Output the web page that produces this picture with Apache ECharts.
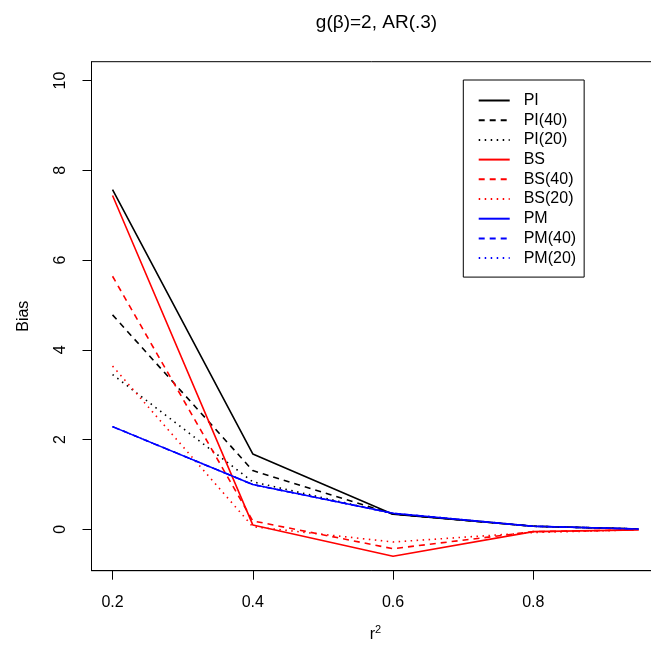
<!DOCTYPE html>
<html>
<head>
<meta charset="utf-8">
<script src="https://cdn.jsdelivr.net/npm/echarts@6/dist/echarts.min.js"></script>
<style>html,body{margin:0;padding:0;background:#fff;}#c{width:651px;height:652px;}</style>
</head>
<body>
<div id="c"></div>
<script>
const xVals = [0.2, 0.4, 0.6, 0.8, 0.95];
const xTicks = [0.2, 0.4, 0.6, 0.8];
const yTicks = [0, 2, 4, 6, 8, 10];
const PI   = [7.57, 1.68, 0.34, 0.07, 0.01];
const PI40 = [4.78, 1.31, 0.34, 0.07, 0.01];
const PI20 = [3.45, 1.06, 0.35, 0.07, 0.01];
const BS   = [7.44, 0.10, -0.60, -0.05, -0.01];
const BS40 = [5.64, 0.19, -0.43, -0.05, -0.01];
const BS20 = [3.64, 0.06, -0.28, -0.07, -0.01];
const PM   = [2.29, 1.00, 0.36, 0.07, 0.01];
const PM40 = [2.29, 1.00, 0.36, 0.07, 0.01];
const PM20 = [2.29, 1.00, 0.36, 0.07, 0.01];
const seriesNames = ['PI','PI(40)','PI(20)','BS','BS(40)','BS(20)','PM','PM(40)','PM(20)'];
const seriesData = [PI, PI40, PI20, BS, BS40, BS20, PM, PM40, PM20];
const colors = ['#000000','#000000','#000000','#ff0000','#ff0000','#ff0000','#0000ff','#0000ff','#0000ff'];
const dashes = ['solid',[6,5],[1.5,4.5],'solid',[6,5],[1.5,4.5],'solid',[6,5],[1.5,4.5]];

const FONT = 'Liberation Sans, Arial, sans-serif';
const chart = echarts.init(document.getElementById('c'), null, {renderer:'canvas'});
const series = seriesNames.map((n,i)=>({
  name: n,
  type: 'line',
  data: xVals.map((x,j)=>[x, seriesData[i][j]]),
  showSymbol: false,
  symbol: 'none',
  animation: false,
  lineStyle: {color: colors[i], width: 1.6, type: dashes[i]},
  itemStyle: {color: colors[i]}
}));
chart.setOption({
  animation: false,
  title: {
    text: 'g(β)=2, AR(.3)',
    left: 371.5, top: 8, textAlign: 'center',
    textStyle: {fontFamily: FONT, fontSize: 19, fontWeight: 'normal', color: '#000'}
  },
  grid: {left: 91.5, top: 61.7, width: 568, bottom: 81.3, outerBoundsMode: 'none', containLabel: false, show: true, borderColor: '#000', borderWidth: 1, backgroundColor: 'transparent'},
  legend: {
    orient: 'vertical', left: 463.3, top: 80,
    data: seriesNames,
    itemWidth: 31, itemHeight: 14, itemGap: 3.7,
    padding: [12.5, 8, 11, 14.4],
    borderColor: '#000', borderWidth: 1,
    itemStyle: {opacity: 0},
    textStyle: {fontFamily: FONT, fontSize: 16, color: '#000', padding: [0,0,0,9]}
  },
  xAxis: {
    type: 'value', min: 0.17, max: 0.98,
    name: '{r|r}{s|2}', nameLocation: 'middle', nameGap: 54,
    nameTextStyle: {rich: {r: {fontFamily: FONT, fontSize: 16, color: '#000'}, s: {fontFamily: FONT, fontSize: 11, color: '#000', verticalAlign: 'top', padding:[0,0,8,0]}}},
    splitLine: {show: false},
    axisLine: {show: true, onZero: false, lineStyle: {color: '#000', width: 1}},
    axisTick: {show: true, length: 9, customValues: xTicks, lineStyle: {color: '#000'}},
    axisLabel: {customValues: xTicks, margin: 24, fontFamily: FONT, fontSize: 16, color: '#000', formatter: v => v.toFixed(1)}
  },
  yAxis: {
    type: 'value', min: -0.92, max: 10.42,
    name: 'Bias', nameLocation: 'middle', nameGap: 60, nameRotate: 90,
    nameTextStyle: {fontFamily: FONT, fontSize: 16, color: '#000'},
    splitLine: {show: false},
    axisLine: {show: true, onZero: false, lineStyle: {color: '#000', width: 1}},
    axisTick: {show: true, length: 9, customValues: yTicks, lineStyle: {color: '#000'}},
    axisLabel: {customValues: yTicks, rotate: 90, margin: 23, fontFamily: FONT, fontSize: 16, color: '#000'}
  },
  series: series
});
</script>
</body>
</html>
